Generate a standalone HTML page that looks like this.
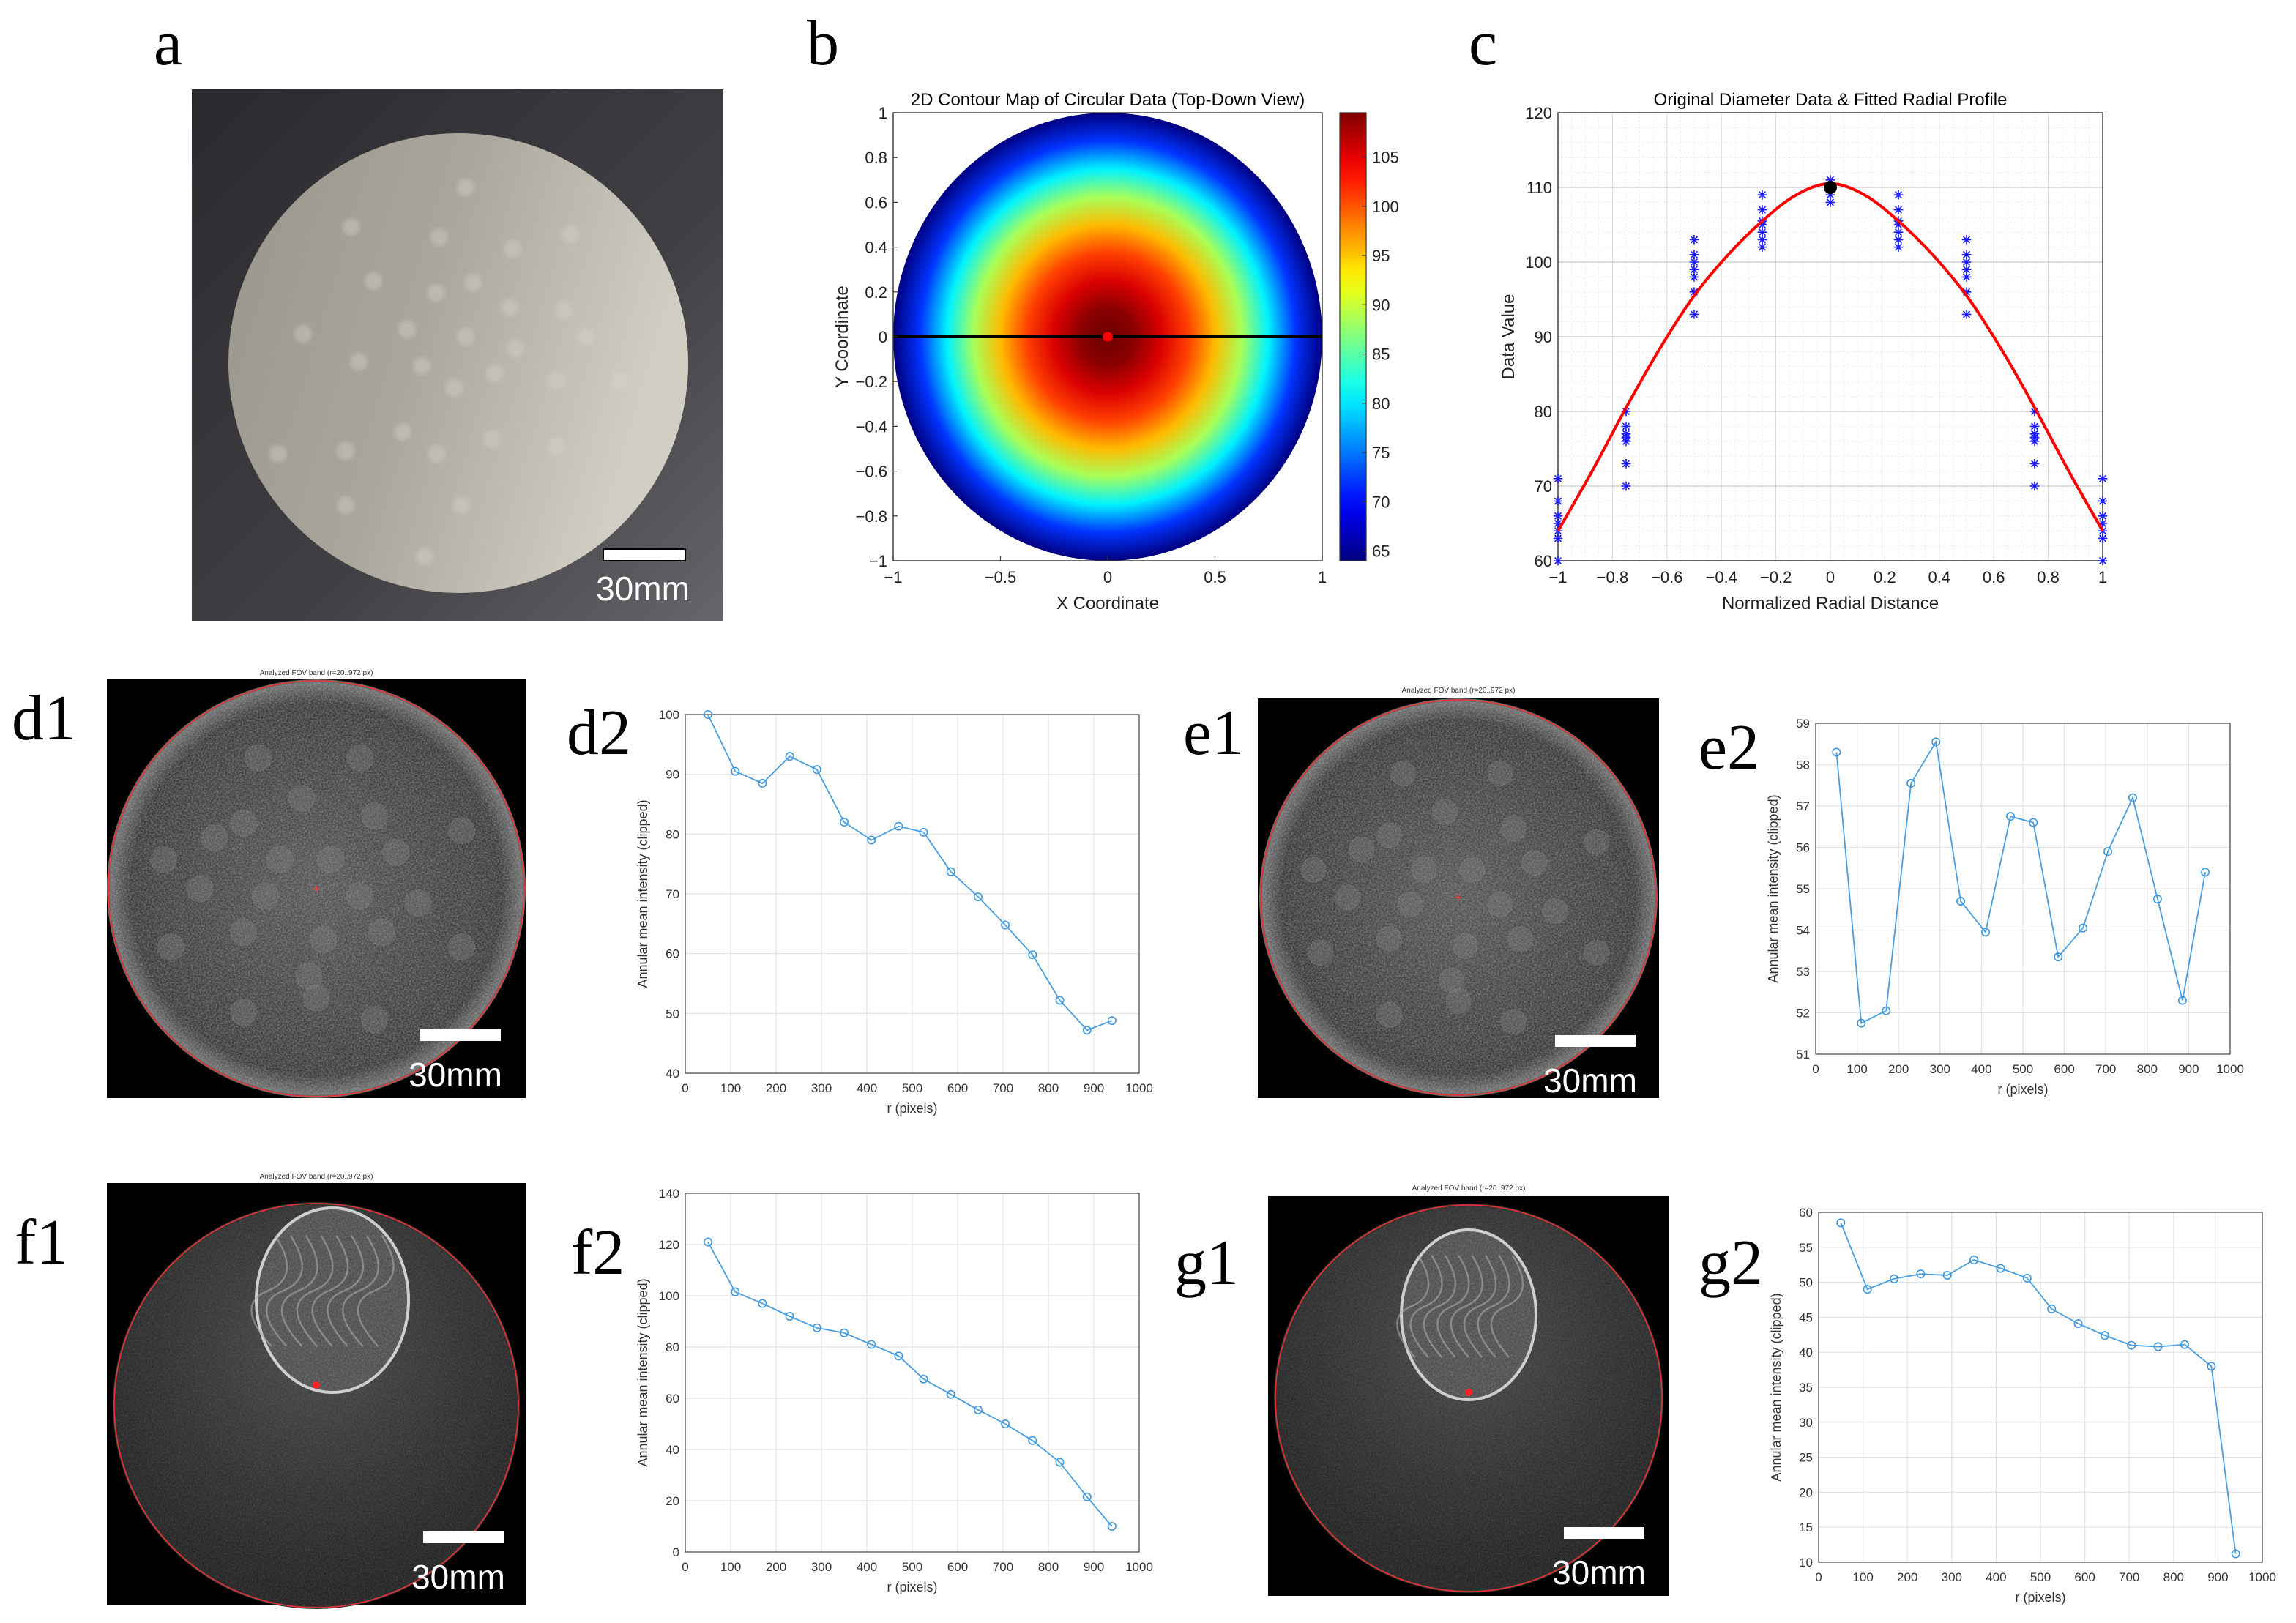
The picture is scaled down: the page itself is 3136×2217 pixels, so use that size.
<!DOCTYPE html>
<html><head><meta charset="utf-8"><style>
html,body{margin:0;padding:0;background:#fff;}
svg{display:block;}
text{font-family:"Liberation Sans",sans-serif;}
.lab{font-family:"Liberation Serif",serif;font-size:44px;fill:#000;}
</style></head><body>
<svg id="fig" xmlns="http://www.w3.org/2000/svg" width="3136" height="2217" viewBox="0 0 1568 1108.5">
<defs>
<filter id="noise" x="0" y="0" width="100%" height="100%">
<feTurbulence type="fractalNoise" baseFrequency="0.9" numOctaves="2" seed="3"/>
<feColorMatrix type="matrix" values="0 0 0 0 0.6  0 0 0 0 0.6  0 0 0 0 0.6  0 0 0 1.2 -0.35"/>
<feComposite in2="SourceGraphic" operator="in"/>
</filter>
<filter id="soft"><feGaussianBlur stdDeviation="1.5"/></filter>
<linearGradient id="photoBg" x1="0" y1="0" x2="1" y2="1"><stop offset="0" stop-color="#2a2a2e"/><stop offset="0.6" stop-color="#404044"/><stop offset="1" stop-color="#66666a"/></linearGradient>
<linearGradient id="disc" x1="0" y1="0" x2="1" y2="0.3"><stop offset="0" stop-color="#99958b"/><stop offset="0.5" stop-color="#aaa69c"/><stop offset="1" stop-color="#d2cec4"/></linearGradient>
<radialGradient id="fovD" cx="0.5" cy="0.5" r="0.5"><stop offset="0" stop-color="#555"/><stop offset="0.9" stop-color="#3a3a3a"/><stop offset="1" stop-color="#707070"/></radialGradient>
<radialGradient id="fovF" cx="0.5" cy="0.35" r="0.6"><stop offset="0" stop-color="#4a4a4a"/><stop offset="0.6" stop-color="#333"/><stop offset="1" stop-color="#262626"/></radialGradient>
</defs>
<text class="lab" x="105" y="44">a</text>
<text class="lab" x="551" y="44">b</text>
<text class="lab" x="1003" y="44">c</text>
<text class="lab" x="8" y="505">d1</text>
<text class="lab" x="387" y="515">d2</text>
<text class="lab" x="808" y="515">e1</text>
<text class="lab" x="1160" y="525">e2</text>
<text class="lab" x="10" y="863">f1</text>
<text class="lab" x="390" y="870">f2</text>
<text class="lab" x="802" y="877">g1</text>
<text class="lab" x="1160" y="877">g2</text>
</svg>
<script>
// ---------- data ----------
const bXTicks=[-1,-0.5,0,0.5,1];
const bYTicks=[1,0.8,0.6,0.4,0.2,0,-0.2,-0.4,-0.6,-0.8,-1];
const cbTicks=[65,70,75,80,85,90,95,100,105];
const cXTicks=[-1,-0.8,-0.6,-0.4,-0.2,0,0.2,0.4,0.6,0.8,1];
const cYTicks=[60,70,80,90,100,110,120];
const fitX=[-1,-0.875,-0.75,-0.625,-0.5,-0.375,-0.25,-0.125,0,0.125,0.25,0.375,0.5,0.625,0.75,0.875,1];
const fitY=[64,72,80.5,88.5,95.5,101,105.5,109,110.5,109,105.5,101,95.5,88.5,80.5,72,64];
const starX=[-1,-0.75,-0.5,-0.25,0,0.25,0.5,0.75,1];
const starY=[[60,63,64,65,66,68,71],[70,73,76,76.5,77,78,80],[93,96,98,99,100,101,103],[102,103,104,105,105.5,107,109],[108,109,110,111],[102,103,104,105,105.5,107,109],[93,96,98,99,100,101,103],[70,73,76,76.5,77,78,80],[60,63,64,65,66,68,71]];
const rPix=[50,110,170,230,290,350,410,470,525,585,645,705,765,825,885,940];
const rTicks=[0,100,200,300,400,500,600,700,800,900,1000];
const d2Vals=[100,90.5,88.5,93,90.8,82,79,81.3,80.3,73.7,69.5,64.8,59.8,52.2,47.2,48.8];
const d2YTicks=[40,50,60,70,80,90,100];
const e2Vals=[58.3,51.75,52.05,57.55,58.55,54.7,53.95,56.75,56.6,53.35,54.05,55.9,57.2,54.75,52.3,55.4];
const e2YTicks=[51,52,53,54,55,56,57,58,59];
const f2Vals=[121,101.5,97,92,87.5,85.5,81,76.5,67.5,61.5,55.5,50,43.5,35,21.5,10];
const f2YTicks=[0,20,40,60,80,100,120,140];
const g2Vals=[58.5,49,50.5,51.2,51,53.2,52,50.6,46.2,44.1,42.4,41,40.8,41.1,38,11.2];
const g2YTicks=[10,15,20,25,30,35,40,45,50,55,60];

const NS="http://www.w3.org/2000/svg";
const svg=document.getElementById('fig');
function mk(tag,attrs,parent,txt){const e=document.createElementNS(NS,tag);for(const k in attrs)e.setAttribute(k,attrs[k]);if(txt!==undefined)e.textContent=txt;(parent||svg).appendChild(e);return e;}
function lin(d0,d1,p0,p1){return v=>p0+(v-d0)/(d1-d0)*(p1-p0);}
function jet(t){const c=x=>Math.round(255*Math.max(0,Math.min(1,x)));return `rgb(${c(1.5-Math.abs(4*t-3))},${c(1.5-Math.abs(4*t-2))},${c(1.5-Math.abs(4*t-1))})`;}

// ---------- panel a: photo ----------
(function(){
 const g=mk('g',{});
 
 mk('rect',{x:131,y:61,width:363,height:363,fill:'url(#photoBg)'},g);
 const d=mk('circle',{cx:313,cy:248,r:157,fill:'url(#disc)'},g);
 
 const spots=[[318,128],[240,155],[300,162],[350,170],[390,160],[255,192],[298,200],[323,193],[348,210],[385,212],[207,228],[278,225],[318,230],[352,238],[245,247],[288,250],[338,255],[310,265],[380,260],[423,260],[275,295],[336,300],[236,308],[298,310],[190,310],[380,305],[315,345],[236,345],[290,380],[400,230]];
 spots.forEach(s=>{mk('ellipse',{cx:s[0],cy:s[1],rx:6,ry:6,fill:'#d8d4cc',opacity:0.4,filter:'url(#soft)'},g);});
 const sb=mk('rect',{x:412,y:375,width:56,height:8,fill:'#fff',stroke:'#000','stroke-width':1},g);
 
 const t=mk('text',{x:439,y:410,'text-anchor':'middle','font-size':23,fill:'#fff'},g,'30mm');
 
})();

// ---------- panel b: contour ----------
(function(){
 const L=610,R=903,T=77,B=383;
 const X=lin(-1,1,L,R),Y=lin(-1,1,B,T);
 const g=mk('g',{});
 const grad=mk('radialGradient',{id:'jetGrad',cx:0.5,cy:0.5,r:0.5},svg.querySelector('defs'));
 for(let i=8;i<fitX.length;i++){const t=(fitY[i]-64)/(109.5-64);mk('stop',{offset:fitX[i],'stop-color':jet(t)},grad);}
 mk('rect',{x:L,y:T,width:R-L,height:B-T,fill:'#fff'},g);
 mk('ellipse',{cx:X(0),cy:Y(0),rx:(R-L)/2,ry:(B-T)/2,fill:'url(#jetGrad)'},g);
 const ln=mk('line',{x1:L,y1:Y(0),x2:R,y2:Y(0),stroke:'#000','stroke-width':2},g);
 
 const dot=mk('circle',{cx:X(0),cy:Y(0),r:3.5,fill:'#f00',stroke:'#800','stroke-width':0.5},g);
 
 mk('rect',{x:L,y:T,width:R-L,height:B-T,fill:'none',stroke:'#333','stroke-width':0.7},g);
 bXTicks.forEach(v=>{mk('line',{x1:X(v),y1:B,x2:X(v),y2:B-3,stroke:'#333','stroke-width':0.6},g);const t=mk('text',{x:X(v),y:B+15,'text-anchor':'middle','font-size':11,fill:'#222'},g,String(v).replace('-','−'));});
 bYTicks.forEach(v=>{mk('line',{x1:L,y1:Y(v),x2:L+3,y2:Y(v),stroke:'#333','stroke-width':0.6},g);const t=mk('text',{x:L-4,y:Y(v)+4,'text-anchor':'end','font-size':11,fill:'#222'},g,String(v).replace('-','−'));});
 let t=mk('text',{x:(L+R)/2,y:72,'text-anchor':'middle','font-size':12,fill:'#000'},g,'2D Contour Map of Circular Data (Top-Down View)');
 t=mk('text',{x:(L+R)/2,y:416,'text-anchor':'middle','font-size':12,fill:'#222'},g,'X Coordinate');
 t=mk('text',{x:0,y:0,'text-anchor':'middle','font-size':12,fill:'#222',transform:`translate(579,230) rotate(-90)`},g,'Y Coordinate');
 const CL=915,CR=933,C=lin(64,109.5,B,T);
 const cg=mk('linearGradient',{id:'cbGrad',x1:0,y1:1,x2:0,y2:0},svg.querySelector('defs'));
 for(let i=0;i<=20;i++)mk('stop',{offset:i/20,'stop-color':jet(i/20)},cg);
 const cb=mk('rect',{x:CL,y:T,width:CR-CL,height:B-T,fill:'url(#cbGrad)',stroke:'#333','stroke-width':0.6},g);
 
 cbTicks.forEach(v=>{mk('line',{x1:CR-3,y1:C(v),x2:CR,y2:C(v),stroke:'#333','stroke-width':0.6},g);const tt=mk('text',{x:CR+4,y:C(v)+4,'font-size':11,fill:'#222'},g,v);});
})();

// ---------- panel c ----------
(function(){
 const L=1064,R=1436,T=77,B=383;
 const X=lin(-1,1,L,R),Y=lin(60,120,B,T);
 const g=mk('g',{});
 mk('rect',{x:L,y:T,width:R-L,height:B-T,fill:'#fff'},g);
 for(let v=-1;v<=1.0001;v+=0.05)mk('line',{x1:X(v),y1:T,x2:X(v),y2:B,stroke:'#e4e4e4','stroke-width':0.4,'stroke-dasharray':'1,1.5'},g);
 for(let v=60;v<=120;v+=2)mk('line',{x1:L,y1:Y(v),x2:R,y2:Y(v),stroke:'#e4e4e4','stroke-width':0.4,'stroke-dasharray':'1,1.5'},g);
 cXTicks.forEach(v=>mk('line',{x1:X(v),y1:T,x2:X(v),y2:B,stroke:'#dadada','stroke-width':0.5},g));
 cYTicks.forEach(v=>mk('line',{x1:L,y1:Y(v),x2:R,y2:Y(v),stroke:'#d0d0d0','stroke-width':0.7},g));
 mk('rect',{x:L,y:T,width:R-L,height:B-T,fill:'none',stroke:'#333','stroke-width':0.7},g);
 starX.forEach((sx,i)=>starY[i].forEach(v=>{
  const cx=X(sx),cy=Y(v),s=3.2;
  const st=mk('path',{d:`M${cx-s},${cy}L${cx+s},${cy}M${cx},${cy-s}L${cx},${cy+s}M${cx-s*0.7},${cy-s*0.7}L${cx+s*0.7},${cy+s*0.7}M${cx-s*0.7},${cy+s*0.7}L${cx+s*0.7},${cy-s*0.7}`,stroke:'#1a1aff','stroke-width':0.8,fill:'none'},g);
  }));
 // smooth Catmull-Rom path
 const P=fitX.map((x,i)=>[X(x),Y(fitY[i])]);
 let d='M'+P[0][0]+','+P[0][1];
 for(let i=0;i<P.length-1;i++){const p0=P[Math.max(0,i-1)],p1=P[i],p2=P[i+1],p3=P[Math.min(P.length-1,i+2)];
  d+=`C${(p1[0]+(p2[0]-p0[0])/6).toFixed(1)},${(p1[1]+(p2[1]-p0[1])/6).toFixed(1)} ${(p2[0]-(p3[0]-p1[0])/6).toFixed(1)},${(p2[1]-(p3[1]-p1[1])/6).toFixed(1)} ${p2[0].toFixed(1)},${p2[1].toFixed(1)}`;}
 const p=mk('path',{d:d,fill:'none',stroke:'#f00','stroke-width':2,'stroke-linejoin':'round'},g);
 
 const bd=mk('circle',{cx:X(0),cy:Y(110),r:4.5,fill:'#000'},g);
 cXTicks.forEach(v=>{const t=mk('text',{x:X(v),y:B+15,'text-anchor':'middle','font-size':11,fill:'#222'},g,String(v).replace('-','−'));});
 cYTicks.forEach(v=>{const t=mk('text',{x:L-4,y:Y(v)+4,'text-anchor':'end','font-size':11,fill:'#222'},g,v);});
 let t=mk('text',{x:(L+R)/2,y:72,'text-anchor':'middle','font-size':12,fill:'#000'},g,'Original Diameter Data & Fitted Radial Profile');
 t=mk('text',{x:(L+R)/2,y:416,'text-anchor':'middle','font-size':12,fill:'#222'},g,'Normalized Radial Distance');
 t=mk('text',{x:0,y:0,'text-anchor':'middle','font-size':12,fill:'#222',transform:'translate(1034,230) rotate(-90)'},g,'Data Value');
})();

// ---------- CT images ----------
function ctImage(name,x0,y0,w,h,cx,cy,r,kind,barX,barY,titleY){
 const g=mk('g',{});
 mk('rect',{x:x0,y:y0,width:w,height:h,fill:'#000'},g);
 mk('circle',{cx:cx,cy:cy,r:r+2,fill:kind==='dots'?'#6a6a6a':'#333'},g);
 mk('circle',{cx:cx,cy:cy,r:r,fill:kind==='dots'?'url(#fovD)':'url(#fovF)'},g);
 mk('circle',{cx:cx,cy:cy,r:r,fill:'#fff',filter:'url(#noise)',opacity:kind==='dots'?0.6:0.2},g);
 if(kind==='dots'){
  const sp=[[-40,-90],[30,-90],[-10,-62],[40,-50],[-70,-35],[-50,-45],[-25,-20],[10,-20],[55,-25],[100,-40],[-105,-20],[-35,5],[30,5],[-80,0],[70,10],[-50,30],[5,35],[45,30],[-5,60],[-100,40],[100,40],[-50,85],[40,90],[0,75]];
  sp.forEach(s=>{mk('circle',{cx:cx+s[0]*r/142,cy:cy+s[1]*r/142,r:9*r/142,fill:'#8a8a8a',opacity:0.3,stroke:'#aaa','stroke-width':0.6,'stroke-opacity':0.6},g);});
  mk('text',{x:cx,y:cy+3,'text-anchor':'middle','font-size':9,fill:'#f33'},g,'+');
 } else {
  const bx=cx+(kind==='brainF'?11:0),by=cy-(kind==='brainF'?72:57),rx=kind==='brainF'?52:46,ry=kind==='brainF'?63:58;
  const br=mk('ellipse',{cx:bx,cy:by,rx:rx,ry:ry,fill:'#505050',stroke:'#cfcfcf','stroke-width':2},g);
  
  mk('ellipse',{cx:bx,cy:by,rx:rx,ry:ry,fill:'#fff',filter:'url(#noise)',opacity:0.35},g);
  for(let i=0;i<8;i++)mk('path',{d:`M${bx-rx*0.75+i*rx*0.2},${by-ry*0.7} q${rx*0.35},${ry*0.45} ${-rx*0.1},${ry*0.6} t${rx*0.05},${ry*0.6}`,fill:'none',stroke:'#aaa','stroke-width':1.2,opacity:0.6},g);
  mk('circle',{cx:bx-(kind==='brainF'?11:0),cy:by+ry-5,r:2.5,fill:'#f22'},g);
 }
 const c=mk('circle',{cx:cx,cy:cy,r:r+1,fill:'none',stroke:'#e33','stroke-width':0.8},g);
 
 const sb=mk('rect',{x:barX,y:barY,width:55,height:8,fill:'#fff'},g);
 const st=mk('text',{x:barX+24,y:barY+39,'text-anchor':'middle','font-size':23,fill:'#fff'},g,'30mm');
 const tt=mk('text',{x:x0+w/2,y:titleY,'text-anchor':'middle','font-size':5,fill:'#333'},g,'Analyzed FOV band (r=20..972 px)');
}
ctImage('ct-image-d1',73,464,286,286,216,607,141,'dots',287,703,461);
ctImage('ct-image-e1',859,477,274,273,996,613,134,'dots',1062,707,473);
ctImage('ct-image-f1',73,808,286,288,216,960,137,'brainF',289,1046,805);
ctImage('ct-image-g1',866,817,274,273,1003,955,131,'brainG',1068,1043,813);

// ---------- line charts ----------
function lineChart(name,L,R,T,B,ymin,ymax,yTicks,vals){
 const X=lin(0,1000,L,R),Y=lin(ymin,ymax,B,T);
 const g=mk('g',{});
 mk('rect',{x:L,y:T,width:R-L,height:B-T,fill:'#fff'},g);
 rTicks.forEach(v=>mk('line',{x1:X(v),y1:T,x2:X(v),y2:B,stroke:'#e2e2e2','stroke-width':0.6},g));
 yTicks.forEach(v=>mk('line',{x1:L,y1:Y(v),x2:R,y2:Y(v),stroke:'#e2e2e2','stroke-width':0.6},g));
 mk('rect',{x:L,y:T,width:R-L,height:B-T,fill:'none',stroke:'#444','stroke-width':0.6},g);
 let d='';rPix.forEach((r,i)=>{d+=(i?'L':'M')+X(r).toFixed(1)+','+Y(vals[i]).toFixed(1);});
 const p=mk('path',{d:d,fill:'none',stroke:'#4a9ede','stroke-width':0.9},g);
 
 rPix.forEach((r,i)=>{const m=mk('circle',{cx:X(r),cy:Y(vals[i]),r:2.6,fill:'none',stroke:'#3f98dc','stroke-width':0.8},g);});
 rTicks.forEach(v=>{const t=mk('text',{x:X(v),y:B+13,'text-anchor':'middle','font-size':8.5,fill:'#333'},g,v);});
 yTicks.forEach(v=>{const t=mk('text',{x:L-4,y:Y(v)+3,'text-anchor':'end','font-size':8.5,fill:'#333'},g,v);});
 let t=mk('text',{x:(L+R)/2,y:B+27,'text-anchor':'middle','font-size':9,fill:'#333'},g,'r (pixels)');
 t=mk('text',{x:0,y:0,'text-anchor':'middle','font-size':9,fill:'#333',transform:`translate(${L-26},${(T+B)/2}) rotate(-90)`},g,'Annular mean intensity (clipped)');
}
lineChart('chart-d2',468,778,488,733,40,100,d2YTicks,d2Vals);
lineChart('chart-e2',1240,1523,494,720,51,59,e2YTicks,e2Vals);
lineChart('chart-f2',468,778,815,1060,0,140,f2YTicks,f2Vals);
lineChart('chart-g2',1242,1545,828,1067,10,60,g2YTicks,g2Vals);
</script>
</body></html>
